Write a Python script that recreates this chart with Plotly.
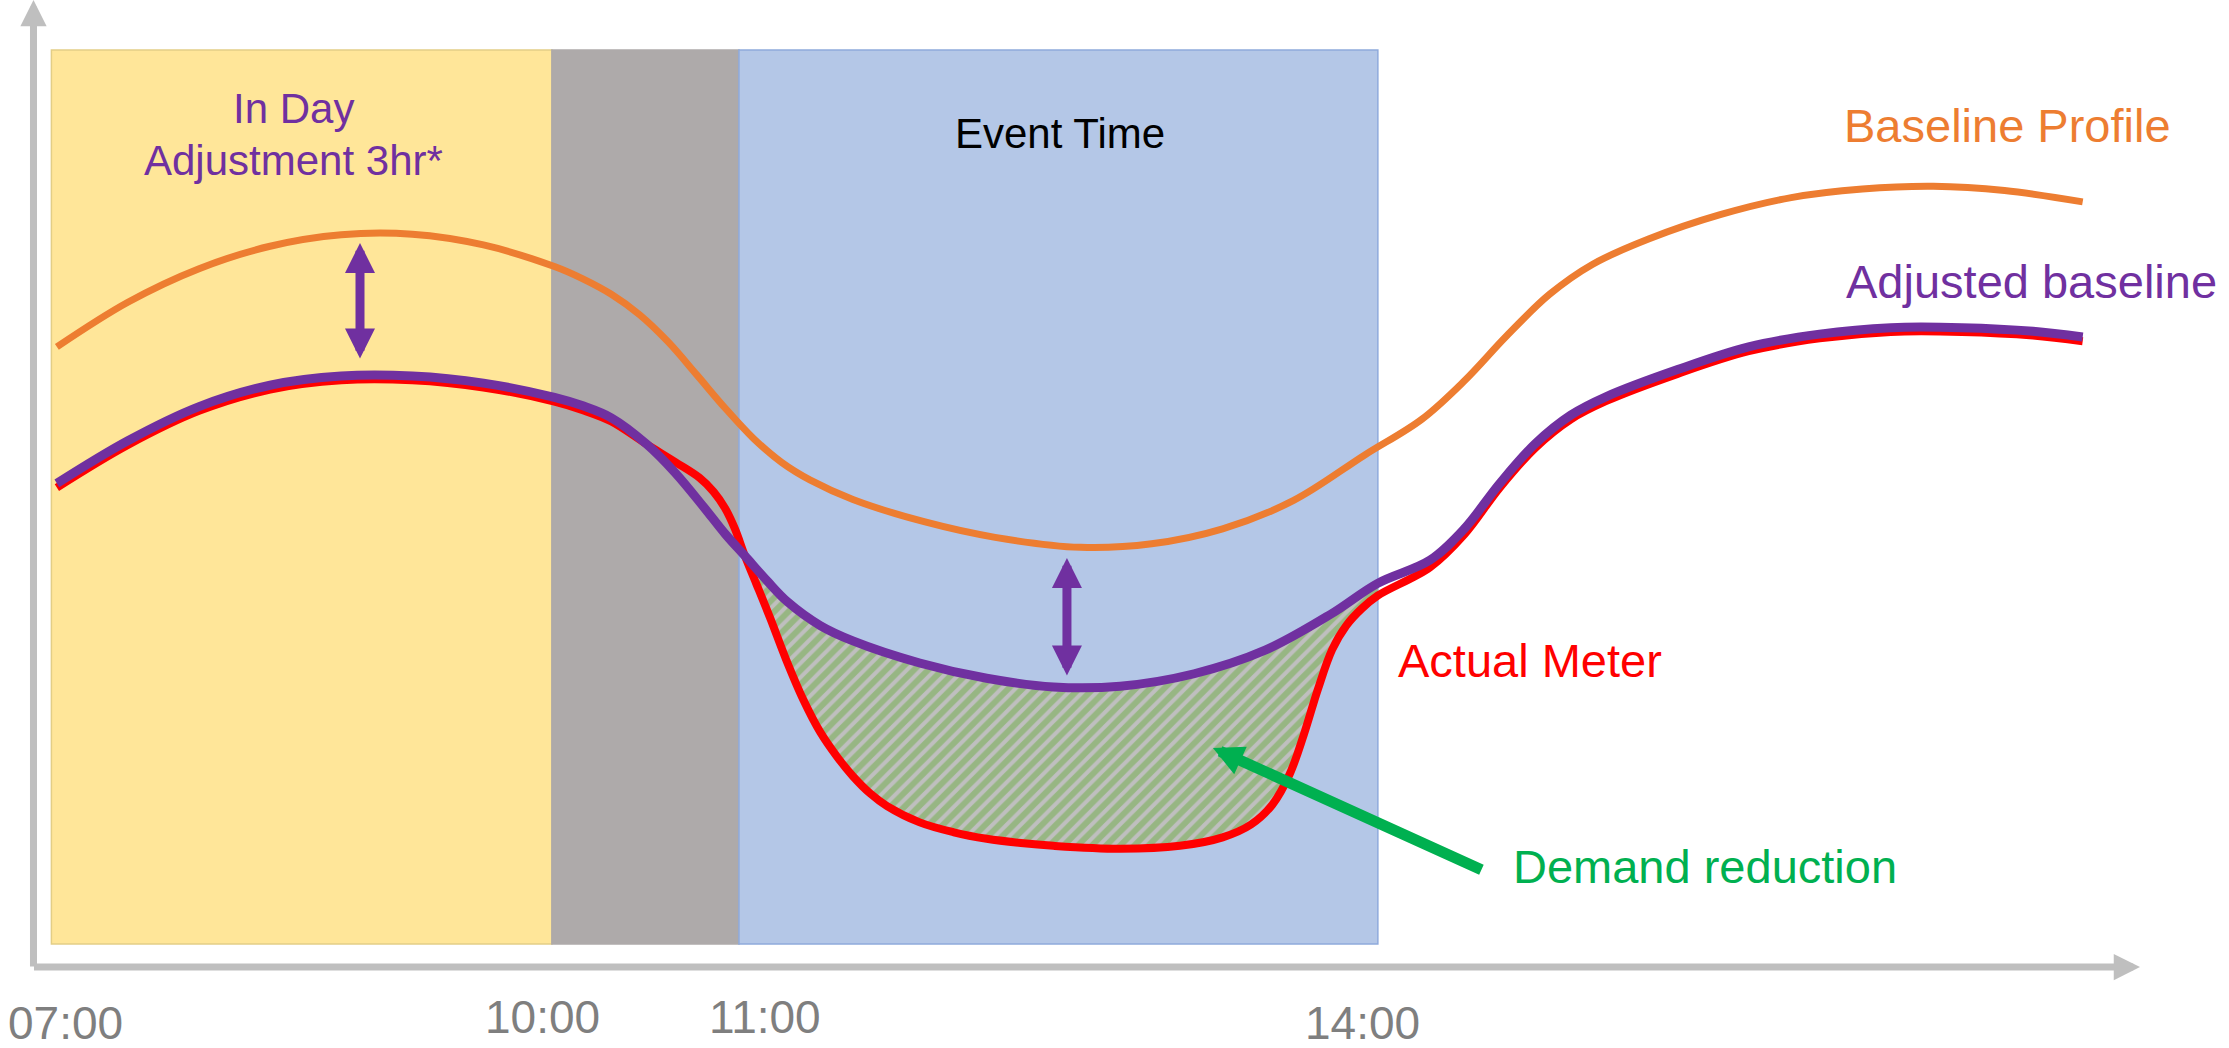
import numpy as np
import plotly.graph_objects as go

# ---- schematic data (position units along the day, load in arbitrary units) ----
# period boundaries: 07:00, 10:00, 11:00, 14:00
period_edges = [0.85, 24.61, 33.49, 63.82]
period_fill = ["#FFE699", "#AEAAAA", "#B4C7E7"]
period_edge_col = ["#E3CE86", "#AEAAAA", "#8FAADC"]
panel_bottom, panel_top = 2.39, 95.12

tick_labels = ["07:00", "10:00", "11:00", "14:00"]
tick_pos = [1.50, 24.14, 34.73, 63.11]
tick_level = [-5.82, -5.20, -5.20, -5.82]

baseline_x = [1.11, 4.48, 7.86, 11.23, 14.61, 17.98, 21.36, 24.73, 26.08, 27.43,
              28.78, 30.13, 31.48, 32.83, 34.18, 35.53, 36.88, 38.90, 42.28, 45.65,
              49.70, 53.08, 56.45, 59.82, 63.20, 65.90, 67.92, 69.95, 71.97, 74.00,
              76.70, 80.07, 83.44, 86.82, 90.19, 93.57, 97.28]
baseline_y = [64.33, 68.96, 72.44, 74.77, 75.96, 76.01, 74.90, 72.66, 71.38, 69.78,
              67.65, 64.84, 61.45, 57.99, 54.83, 52.32, 50.50, 48.50, 46.19, 44.57,
              43.53, 43.90, 45.45, 48.40, 53.12, 56.81, 60.79, 65.51, 69.78, 72.88,
              75.54, 78.04, 79.81, 80.70, 80.99, 80.55, 79.37]

adjusted_x = [1.11, 4.48, 7.86, 11.23, 14.61, 17.98, 21.36, 24.73, 26.08, 27.43,
              29.12, 30.47, 31.82, 32.83, 33.77, 34.85, 35.80, 37.35, 38.90, 42.07,
              45.25, 48.42, 51.59, 55.10, 58.47, 61.58, 63.81, 66.30, 67.92, 69.61,
              71.30, 72.98, 74.67, 78.05, 81.42, 84.79, 88.17, 91.54, 94.92, 97.28]
adjusted_y = [50.17, 54.59, 58.13, 60.35, 61.30, 61.30, 60.57, 59.09, 58.21, 56.97,
              54.21, 51.25, 47.71, 44.94, 42.65, 40.00, 37.87, 35.42, 33.83, 31.54,
              29.95, 29.05, 29.13, 30.42, 32.86, 36.59, 39.80, 42.21, 45.45, 50.17,
              54.30, 57.25, 59.17, 61.97, 64.33, 65.65, 66.32, 66.32, 65.95, 65.36]

actual_x = [1.11, 4.48, 7.86, 11.23, 14.61, 17.98, 21.36, 24.73, 26.08, 27.43,
            29.12, 30.47, 31.61, 32.29, 32.83, 33.30, 33.77, 34.31, 34.99, 35.73,
            36.54, 37.35, 38.16, 38.90, 39.71, 40.52, 42.07, 43.69, 45.25, 46.87,
            48.42, 51.59, 54.42, 56.45, 57.80, 58.81, 59.62, 60.30, 60.97, 61.65,
            62.32, 63.06, 63.81, 66.30, 67.92, 69.61, 71.30, 72.98, 74.67, 78.05,
            81.42, 84.79, 88.17, 91.54, 94.92, 97.28]
actual_y = [49.73, 54.15, 57.69, 59.90, 60.86, 60.86, 60.12, 58.65, 57.76, 56.59,
            54.21, 52.38, 50.76, 49.29, 47.59, 45.45, 42.65, 39.77, 36.09, 31.88,
            27.75, 24.36, 21.78, 19.79, 18.02, 16.69, 15.00, 13.97, 13.30, 12.86,
            12.57, 12.27, 12.57, 13.45, 14.78, 16.84, 19.94, 24.07, 28.79, 32.92,
            35.42, 37.19, 38.52, 41.47, 44.86, 49.73, 53.86, 56.81, 58.72, 61.53,
            63.88, 65.21, 65.88, 65.88, 65.51, 64.92]

# stretch of the event where metered load sits below the adjusted baseline
reduction_window = [33.77, 63.81]

# in-day adjustment markers (baseline profile -> adjusted baseline)
adjust_x = [15.50, 49.06]
adjust_top = [75.10, 42.43]
adjust_bottom = [63.07, 30.19]

# pointer to the demand-reduction area
reduction_tail = (68.76, 10.06)
reduction_head = (55.99, 22.72)

axis_x_end, axis_y_end = 100.0, 100.31

FONT = "Liberation Sans, Arial, sans-serif"
ORANGE, PURPLE, RED, GREEN = "#ED7D31", "#7030A0", "#FF0000", "#00B050"
AXIS_GREY = "#BFBFBF"


def curve_line(color, width):
    return dict(color=color, width=width, shape="spline", smoothing=1.0, simplify=False)


fig = go.Figure()

# time-period panels
for i, col in enumerate(period_fill):
    fig.add_shape(type="rect", xref="x", yref="y",
                  x0=period_edges[i], x1=period_edges[i + 1],
                  y0=panel_bottom, y1=panel_top,
                  fillcolor=col, line=dict(color=period_edge_col[i], width=1.5),
                  layer="below")

# hatched demand-reduction area between adjusted baseline and actual meter
ax_ = np.array(actual_x)
ay_ = np.array(actual_y)
bx_ = np.array(adjusted_x)
by_ = np.array(adjusted_y)
ma = (ax_ >= reduction_window[0]) & (ax_ <= reduction_window[1])
mb = (bx_ >= reduction_window[0]) & (bx_ <= reduction_window[1])
fig.add_trace(go.Scatter(x=ax_[ma], y=ay_[ma], mode="lines",
                         line=curve_line("rgba(0,0,0,0)", 0), hoverinfo="skip"))
fig.add_trace(go.Scatter(x=bx_[mb], y=by_[mb], mode="lines", fill="tonexty",
                         fillcolor="#BFBFBF",
                         fillpattern=dict(shape="/", fgcolor="#70AD47", bgcolor="#BFBFBF",
                                          size=10, solidity=0.6),
                         line=curve_line("rgba(0,0,0,0)", 0), hoverinfo="skip"))

# curves
fig.add_trace(go.Scatter(x=baseline_x, y=baseline_y, mode="lines", name="Baseline Profile",
                         line=curve_line(ORANGE, 7)))
fig.add_trace(go.Scatter(x=actual_x, y=actual_y, mode="lines", name="Actual Meter",
                         line=curve_line(RED, 8)))
fig.add_trace(go.Scatter(x=adjusted_x, y=adjusted_y, mode="lines", name="Adjusted baseline",
                         line=curve_line(PURPLE, 9)))

ann = []


def arrow(tip, tail, color, width, size, both=False):
    d = dict(x=tip[0], y=tip[1], ax=tail[0], ay=tail[1],
             xref="x", yref="y", axref="x", ayref="y",
             text="", showarrow=True, arrowhead=2, arrowsize=size,
             arrowwidth=width, arrowcolor=color, standoff=0, borderpad=0)
    if both:
        d.update(arrowside="end+start", startarrowhead=2, startarrowsize=size,
                 startstandoff=0)
    return d


# axes with arrow heads
ann.append(arrow((0, axis_y_end), (0, 0), AXIS_GREY, 7, 0.75))
ann.append(arrow((axis_x_end, 0), (0, 0), AXIS_GREY, 7, 0.75))

# adjustment arrows
for xa, yt, yb in zip(adjust_x, adjust_top, adjust_bottom):
    ann.append(arrow((xa, yt), (xa, yb), PURPLE, 9, 0.667, both=True))

# demand reduction pointer
ann.append(arrow(reduction_head, reduction_tail, GREEN, 11, 0.55))


def label(text, x, y, color, size, xanchor="center"):
    return dict(x=x, y=y, xref="x", yref="y", text=text, showarrow=False,
                xanchor=xanchor, yanchor="middle", borderpad=0,
                font=dict(family=FONT, size=size, color=color))


ann.append(label("In Day", 12.32, 89.07, PURPLE, 42))
ann.append(label("Adjustment 3hr*", 12.32, 83.67, PURPLE, 42))
ann.append(label("Event Time", 48.73, 86.47, "#000000", 42))
ann.append(label("Baseline Profile", 85.90, 87.27, ORANGE, 47, "left"))
ann.append(label("Adjusted baseline", 86.00, 71.09, PURPLE, 47, "left"))
ann.append(label("Actual Meter", 64.73, 31.77, RED, 47, "left"))
ann.append(label("Demand reduction", 70.19, 10.40, GREEN, 47, "left"))

for t, xp, yp in zip(tick_labels, tick_pos, tick_level):
    ann.append(label(t, xp, yp, "#7F7F7F", 46))

fig.update_layout(
    width=2229, height=1048, autosize=False,
    margin=dict(l=0, r=0, t=0, b=0, pad=0),
    paper_bgcolor="white", plot_bgcolor="white",
    showlegend=False,
    xaxis=dict(range=[-1.590, 104.225], visible=False, fixedrange=True),
    yaxis=dict(range=[-8.402, 100.311], visible=False, fixedrange=True),
    annotations=ann,
    font=dict(family=FONT),
)

fig.write_html("out.html")
